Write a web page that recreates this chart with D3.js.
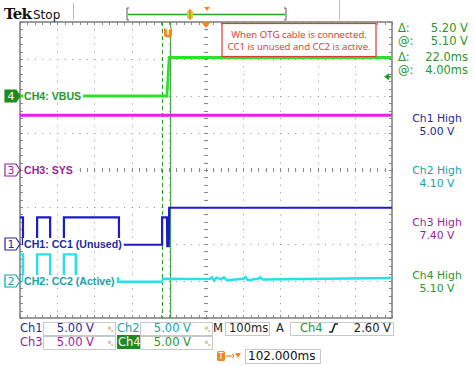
<!DOCTYPE html>
<html><head><meta charset="utf-8">
<script src="https://cdn.jsdelivr.net/npm/d3@7"></script>
<style>body{margin:0;background:#fff}svg{display:block}text{font-family:"DejaVu Sans",sans-serif}</style>
</head><body>
<svg id="c" width="474" height="366"></svg>
<script>
// ---------------- data ----------------
const screenMs = [0, 1000];          // 10 div x 100 ms
const divRange = [-4, 4];            // 8 vertical divisions
const channels = ["CH1: CC1 (Unused)", "CH2: CC2 (Active)", "CH3: SYS", "CH4: VBUS"];
const chNumbers = ["1", "2", "3", "4"];
const chOffsetDiv = [-2, -3, 0, 2];
const chVoltsPerDiv = [5, 5, 5, 5];

const vbusT = [0, 395, 401, 1000];
const vbusV = [0, 0, 5.2, 5.2];
const sysT = [0, 1000];
const sysV = [7.4, 7.4];
const cc1T = [0, 8, 8, 46, 46, 81, 81, 118, 118, 266, 266, 382, 382, 395, 396, 400, 401, 404, 1000];
const cc1V = [3.6, 3.6, 0, 0, 3.6, 3.6, 0, 0, 3.6, 3.6, -0.1, -0.1, 3.6, 3.6, -0.3, -0.3, 4.9, 4.9, 4.9];
const cc2T = [0, 8, 8, 46, 46, 81, 81, 118, 118, 150, 150, 250, 250, 263, 263, 382, 384, 510, 516, 522, 528, 540, 548, 556, 600, 606, 612, 640, 646, 652, 1000];
const cc2V = [3.6, 3.6, 0, 0, 3.6, 3.6, 0, 0, 3.6, 3.6, 0, 0, 0.35, 0.35, -0.1, -0.1, 0.3, 0.25, 0.5, 0.05, 0.45, 0.25, 0.5, 0.1, 0.3, 0.55, 0.1, 0.3, 0.5, 0.2, 0.4];

const cursorT = [383, 405];
const rightCursor = [["Δ:", "5.20 V"], ["@:", "5.10 V"], ["Δ:", "22.0ms"], ["@:", "4.00ms"]];
const highLabels = [["Ch1 High", "5.00 V"], ["Ch2 High", "4.10 V"], ["Ch3 High", "7.40 V"], ["Ch4 High", "5.10 V"]];
const scaleLabels = ["5.00 V", "5.00 V", "5.00 V", "5.00 V"];
const timebase = "100ms";
const trigSource = "Ch4";
const trigLevel = "2.60 V";
const trigPos = "102.000ms";
const note = ["When OTG cable is connected.", "CC1 is unused and CC2 is active."];

// ---------------- style ----------------
const traceCol = ["#1c1cc8", "#28e0ea", "#e61ee6", "#2ee02e"];
const textCol = ["#1e2a9e", "#1aa0a8", "#9a1e9a", "#2a962a"];
const curCol = "#2a962a";
const X0 = 20, X1 = 392, Y0 = 22, Y1 = 318;

const svg = d3.select("#c");
const x = d3.scaleLinear().domain(screenMs).range([X0, X1]);
const y = d3.scaleLinear().domain(divRange).range([Y1, Y0]);
const yv = (ch, v) => y(chOffsetDiv[ch] + v / chVoltsPerDiv[ch]);

// ---------------- grid ----------------
const g = svg.append("g");
const xDivs = d3.range(0, 1001, 100);
const yDivs = d3.range(-4, 5, 1);
g.selectAll(".vg").data(xDivs.slice(1, -1)).join("line")
  .attr("x1", d => Math.round(x(d)) + 0.5).attr("x2", d => Math.round(x(d)) + 0.5).attr("y1", Y0).attr("y2", Y1)
  .attr("stroke", "#8e8e8e").attr("stroke-width", 1).attr("stroke-dasharray", "1,6.4");
g.selectAll(".hg").data(yDivs.slice(1, -1)).join("line")
  .attr("y1", d => Math.round(y(d)) + 0.5).attr("y2", d => Math.round(y(d)) + 0.5).attr("x1", X0).attr("x2", X1)
  .attr("stroke", "#8e8e8e").attr("stroke-width", 1).attr("stroke-dasharray", "1,6.44");
// minor ticks
const xMinor = d3.range(0, 1001, 20);
const yMinor = d3.range(-4, 4.01, 0.2);
const tk = svg.append("g").attr("stroke", "#8a8a8a").attr("stroke-width", 1);
xMinor.forEach(t => {
  const px = Math.round(x(t)) + 0.5;
  tk.append("line").attr("x1", px).attr("x2", px).attr("y1", Y0).attr("y2", Y0 + 3);
  tk.append("line").attr("x1", px).attr("x2", px).attr("y1", Y1).attr("y2", Y1 - 3);
  tk.append("line").attr("x1", px).attr("x2", px).attr("y1", y(0) - 2).attr("y2", y(0) + 2);
});
yMinor.forEach(d => {
  const py = Math.round(y(d)) + 0.5;
  tk.append("line").attr("y1", py).attr("y2", py).attr("x1", X0).attr("x2", X0 + 3);
  tk.append("line").attr("y1", py).attr("y2", py).attr("x1", X1).attr("x2", X1 - 3);
  tk.append("line").attr("y1", py).attr("y2", py).attr("x1", x(500) - 2).attr("x2", x(500) + 2);
});
svg.append("rect").attr("x", X0).attr("y", Y0).attr("width", X1 - X0).attr("height", Y1 - Y0)
  .attr("fill", "none").attr("stroke", "#7c7c7c").attr("stroke-width", 1.5);

// ---------------- cursors ----------------
svg.append("line").attr("x1", x(cursorT[0])).attr("x2", x(cursorT[0])).attr("y1", Y0).attr("y2", Y1)
  .attr("stroke", curCol).attr("stroke-width", 1).attr("stroke-dasharray", "4,3");
svg.append("line").attr("x1", x(cursorT[1])).attr("x2", x(cursorT[1])).attr("y1", Y0).attr("y2", Y1)
  .attr("stroke", curCol).attr("stroke-width", 1);

// ---------------- traces ----------------
function trace(ch, T, V, w) {
  const pts = T.map((t, i) => [x(t), yv(ch, V[i])]);
  svg.append("path").attr("d", d3.line()(pts)).attr("fill", "none")
    .attr("stroke", traceCol[ch]).attr("stroke-width", w).attr("stroke-linejoin", "miter");
}
trace(2, sysT, sysV, 2.8);
trace(3, vbusT, vbusV, 2.8);
trace(0, cc1T, cc1V, 2.2);
trace(1, cc2T, cc2V, 2.4);

// ---------------- channel labels & markers ----------------
[0, 1, 2, 3].forEach(ch => {
  const py = yv(ch, 0);
  const t = svg.append("text").attr("x", 24).attr("y", py).attr("dy", "0.36em")
    .attr("font-size", 10.6).attr("font-weight", "bold").attr("fill", textCol[ch])
    .style("font-family", "'Liberation Sans',Arial,sans-serif").text(channels[ch]);
  const bb = t.node().getBBox();
  svg.insert("rect", () => t.node()).attr("x", bb.x - 1).attr("y", py - 6).attr("width", bb.width + 3).attr("height", 12).attr("fill", "#fff");
  const filled = ch === 3;
  const mk = svg.append("g").attr("transform", `translate(5,${py})`);
  mk.append("path").attr("d", "M0,-6 L11,-6 L15,0 L11,6 L0,6 Z")
    .attr("fill", filled ? "#1e8a1e" : "#fff").attr("stroke", filled ? "#1e8a1e" : textCol[ch]).attr("stroke-width", 1.2);
  mk.append("text").attr("x", 6).attr("y", 0).attr("dy", "0.36em").attr("text-anchor", "middle")
    .attr("font-size", 11).attr("fill", filled ? "#fff" : textCol[ch]).text(chNumbers[ch]);
});

// trigger level arrow (right edge)
const tl = yv(3, 2.6);
svg.append("path").attr("d", `M${X1 - 8},${tl} L${X1 - 3},${tl - 3.5} L${X1 - 3},${tl + 3.5} Z`).attr("fill", curCol);
svg.append("line").attr("x1", X1 - 4).attr("x2", X1 - 1).attr("y1", tl).attr("y2", tl).attr("stroke", curCol).attr("stroke-width", 1.5);

// trigger markers
const orange = "#f08a1e";
const tx = x(398);
svg.append("path").attr("d", `M${tx - 4},28 L${tx + 4},28 L${tx + 4},36 Q${tx},39 ${tx - 4},36 Z`).attr("fill", orange);
svg.append("text").attr("x", tx).attr("y", 32.5).attr("dy", "0.3em").attr("text-anchor", "middle").attr("font-size", 8).attr("font-weight", "bold").attr("fill", "#fff").text("T");
svg.append("path").attr("d", `M${x(500) - 5},${Y0} L${x(500) + 5},${Y0} L${x(500)},${Y0 + 6} Z`).attr("fill", orange);

// ---------------- note box ----------------
svg.append("rect").attr("x", 222).attr("y", 23.5).attr("width", 154).attr("height", 33)
  .attr("fill", "#fff").attr("stroke", "#e03838").attr("stroke-width", 1.2);
note.forEach((s, i) => svg.append("text").attr("x", 299).attr("y", 34.5 + i * 12).attr("dy", "0.35em")
  .attr("text-anchor", "middle").attr("font-size", 9.6).attr("fill", "#e03030")
  .style("font-family", "'Open Sans',sans-serif").text(s));

// ---------------- header ----------------
svg.append("text").attr("x", 4).attr("y", 19).attr("font-size", 15).attr("font-weight", "bold").attr("fill", "#111")
  .style("font-family", "'DejaVu Serif',serif").style("letter-spacing", "-0.8px").text("Tek");
svg.append("text").attr("x", 33).attr("y", 18.5).attr("font-size", 12).attr("fill", "#111").text("Stop");
svg.append("line").attr("x1", 73.5).attr("x2", 73.5).attr("y1", 3).attr("y2", 20).attr("stroke", "#bbb");
svg.append("line").attr("x1", 339.5).attr("x2", 339.5).attr("y1", 0).attr("y2", 20).attr("stroke", "#bbb");
svg.append("path").attr("d", "M129,8 L127,8 L127,20 L129,20").attr("fill", "none").attr("stroke", "#555");
svg.append("path").attr("d", "M284,8 L286,8 L286,20 L284,20").attr("fill", "none").attr("stroke", "#555");
svg.append("line").attr("x1", 128).attr("x2", 285).attr("y1", 14.5).attr("y2", 14.5).attr("stroke", "#2aa02a").attr("stroke-width", 1.3);
svg.append("rect").attr("x", 187).attr("y", 10).attr("width", 6).attr("height", 9).attr("rx", 2).attr("fill", "#e8c040");
svg.append("line").attr("x1", 190).attr("x2", 190).attr("y1", 9).attr("y2", 20).attr("stroke", "#b07010");
svg.append("path").attr("d", "M204,7 L210,7 L207,11 Z").attr("fill", orange);

// ---------------- right panel ----------------
const ry = [28, 41, 57, 70];
rightCursor.forEach((r, i) => {
  svg.append("text").attr("x", 398).attr("y", ry[i]).attr("dy", "0.36em").attr("font-size", 11.5).attr("fill", curCol).text(r[0]);
  svg.append("text").attr("x", 468).attr("y", ry[i]).attr("dy", "0.36em").attr("text-anchor", "end").attr("font-size", 11.5).attr("fill", curCol).text(r[1]);
});
const hy = [119, 171, 223, 276];
highLabels.forEach((h, i) => {
  svg.append("text").attr("x", 437).attr("y", hy[i] - 0.5).attr("dy", "0.36em").attr("text-anchor", "middle").attr("font-size", 10.8).attr("fill", textCol[i]).text(h[0]);
  svg.append("text").attr("x", 437).attr("y", hy[i] + 12.5).attr("dy", "0.36em").attr("text-anchor", "middle").attr("font-size", 10.8).attr("fill", textCol[i]).text(h[1]);
});

// ---------------- bottom readouts ----------------
const box = (x0, y0, w, h) => svg.append("rect").attr("x", x0 + 0.5).attr("y", y0 + 0.5).attr("width", w).attr("height", h)
  .attr("fill", "#fff").attr("stroke", "#c8c8c8");
const txt = (x0, y0, s, col, opts = {}) => svg.append("text").attr("x", x0).attr("y", y0).attr("dy", "0.36em")
  .attr("font-size", opts.size || 11.5).attr("fill", col).attr("text-anchor", opts.anchor || "start").text(s);
const rows = [328, 342];
// row 1
txt(20, rows[0], "Ch1", textCol[0]);
box(43, 322, 72, 13); txt(94, rows[0], scaleLabels[0], textCol[0], { anchor: "end" });
txt(108, rows[0] + 1, "ᴮᵥ", "#a08020", { size: 7 });
txt(117, rows[0], "Ch2", textCol[1]);
box(140, 322, 72, 13); txt(191, rows[0], scaleLabels[1], textCol[1], { anchor: "end" });
txt(205, rows[0] + 1, "ᴮᵥ", "#a08020", { size: 7 });
txt(213, rows[0], "M", "#222");
box(225, 322, 44, 13); txt(229, rows[0], timebase, "#222");
txt(276, rows[0], "A", "#222");
box(290, 322, 103, 13); txt(300, rows[0], trigSource, curCol);
svg.append("path").attr("d", `M329,${rows[0] + 4} L332,${rows[0] + 4} L335,${rows[0] - 4} L338,${rows[0] - 4}`).attr("fill", "none").attr("stroke", "#222").attr("stroke-width", 1.6);
txt(391, rows[0], trigLevel, "#222", { anchor: "end" });
// row 2
txt(20, rows[1], "Ch3", textCol[2]);
box(43, 336, 72, 13); txt(94, rows[1], scaleLabels[2], textCol[2], { anchor: "end" });
txt(108, rows[1] + 1, "ᴮᵥ", "#a08020", { size: 7 });
svg.append("rect").attr("x", 117).attr("y", 335).attr("width", 23).attr("height", 14).attr("fill", "#1e8a1e");
txt(118, rows[1], "Ch4", "#fff");
box(140, 336, 72, 13); txt(191, rows[1], scaleLabels[3], curCol, { anchor: "end" });
txt(205, rows[1] + 1, "ᴮᵥ", "#a08020", { size: 7 });
// row 3
svg.append("rect").attr("x", 217).attr("y", 351).attr("width", 8).attr("height", 10).attr("rx", 1.5).attr("fill", orange);
txt(221, 356, "T", "#fff", { size: 8, anchor: "middle" });
svg.append("line").attr("x1", 226).attr("x2", 232).attr("y1", 356).attr("y2", 356).attr("stroke", orange).attr("stroke-width", 1.2);
svg.append("path").attr("d", "M232,354 L234,356 L232,358").attr("fill", "none").attr("stroke", orange);
svg.append("path").attr("d", "M235,353 L241,353 L238,358 Z").attr("fill", orange);
box(245, 349, 75, 14); txt(248, 356, trigPos, "#111", { size: 12 });
</script>
</body></html>
